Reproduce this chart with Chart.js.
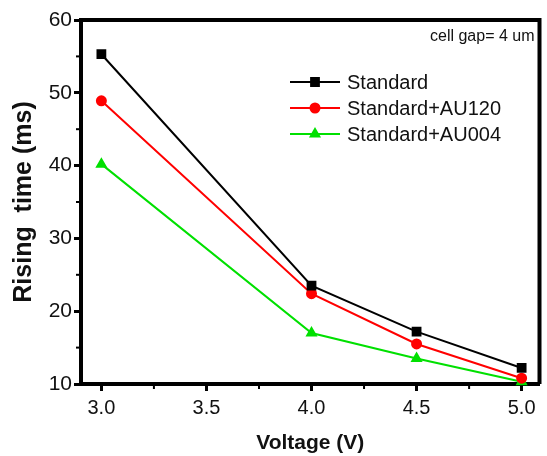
<!DOCTYPE html>
<html>
<head>
<meta charset="utf-8">
<script src="https://cdn.jsdelivr.net/npm/chart.js@4.4.1/dist/chart.umd.min.js"></script>
<style>
  body { margin: 0; background: #fff; }
  #chart { display: block; }
</style>
</head>
<body>
<canvas id="chart" width="547" height="456"></canvas>
<script>
// values
const voltages = [3.0, 4.0, 4.5, 5.0];
const standard = [55.3, 23.5, 17.2, 12.2];
const au120 = [48.9, 22.4, 15.5, 10.8];
const au004 = [40.2, 17.0, 13.5, 10.3];
const seriesLabels = ['Standard', 'Standard+AU120', 'Standard+AU004'];
const xTicks = [3.0, 3.5, 4.0, 4.5, 5.0];
const yTicks = [10, 20, 30, 40, 50, 60];
const note = 'cell gap= 4 um';

const font = "'Liberation Sans', Arial, sans-serif";

const toPoints = vals => vals.map((v, i) => ({ x: voltages[i], y: v }));

// frame, minor ticks, legend and note
const extras = {
  id: 'extras',
  afterDraw(chart) {
    const ctx = chart.ctx;
    const a = chart.chartArea;
    const xs = chart.scales.x, ys = chart.scales.y;
    ctx.save();
    ctx.strokeStyle = '#000';
    ctx.lineWidth = 4;
    ctx.beginPath();
    ctx.moveTo(a.left, a.top);
    ctx.lineTo(a.right, a.top);
    ctx.lineTo(a.right, a.bottom);
    ctx.stroke();

    // minor ticks halfway between majors
    ctx.lineWidth = 2;
    for (let i = 0; i < xTicks.length - 1; i++) {
      const px = xs.getPixelForValue((xTicks[i] + xTicks[i + 1]) / 2);
      ctx.beginPath();
      ctx.moveTo(px, a.bottom);
      ctx.lineTo(px, a.bottom + 5);
      ctx.stroke();
    }
    for (let i = 0; i < yTicks.length - 1; i++) {
      const py = ys.getPixelForValue((yTicks[i] + yTicks[i + 1]) / 2);
      ctx.beginPath();
      ctx.moveTo(a.left, py);
      ctx.lineTo(a.left - 5, py);
      ctx.stroke();
    }

    // legend
    const rows = [82, 108, 134];
    chart.data.datasets.forEach((ds, i) => {
      const y = rows[i];
      ctx.strokeStyle = ds.borderColor;
      ctx.lineWidth = 2;
      ctx.beginPath();
      ctx.moveTo(290, y);
      ctx.lineTo(340, y);
      ctx.stroke();
      Chart.helpers.drawPoint(ctx, {
        pointStyle: ds.pointStyle, radius: ds.pointRadius, borderWidth: 1
      }, 315, y);
      ctx.fillStyle = ds.pointBackgroundColor;
      ctx.fill();
      ctx.fillStyle = '#111';
      ctx.font = '20px ' + font;
      ctx.textBaseline = 'middle';
      ctx.textAlign = 'left';
      ctx.fillText(ds.label, 347, y + 1);
    });

    ctx.fillStyle = '#111';
    ctx.font = '16px ' + font;
    ctx.textAlign = 'right';
    ctx.textBaseline = 'middle';
    ctx.fillText(note, a.right - 5, 37);
    ctx.restore();
  }
};

const colors = ['#000000', '#ff0000', '#00e000'];
const styles = ['rect', 'circle', 'triangle'];
const radii = [5.5, 4.5, 5];
const seriesData = [standard, au120, au004];

new Chart(document.getElementById('chart'), {
  type: 'line',
  data: {
    datasets: seriesData.map((vals, i) => ({
      label: seriesLabels[i],
      data: toPoints(vals),
      borderColor: colors[i],
      backgroundColor: colors[i],
      pointBackgroundColor: colors[i],
      pointBorderColor: colors[i],
      pointStyle: styles[i],
      pointRadius: radii[i],
      borderWidth: 2,
      tension: 0,
      clip: false
    }))
  },
  options: {
    responsive: false,
    animation: false,
    layout: { padding: { left: 0, top: 20, right: 4, bottom: 0 } },
    plugins: {
      legend: { display: false },
      tooltip: { enabled: false }
    },
    scales: {
      x: {
        type: 'linear',
        min: 2.903,
        max: 5.085,
        afterBuildTicks: s => { s.ticks = xTicks.map(v => ({ value: v })); },
        afterFit: s => { s.height = 72; },
        border: { color: '#000', width: 4 },
        grid: { drawOnChartArea: false, drawTicks: true, tickLength: 7, tickWidth: 3, tickColor: '#000' },
        ticks: {
          color: '#111',
          padding: 5,
          maxRotation: 0,
          font: { family: font, size: 20 },
          callback: v => Number(v).toFixed(1)
        },
        title: {
          display: true,
          text: 'Voltage (V)',
          color: '#111',
          font: { family: font, size: 21, weight: 'bold' },
          padding: { top: 0, bottom: 0 }
        }
      },
      y: {
        min: 10,
        max: 60,
        afterBuildTicks: s => { s.ticks = yTicks.map(v => ({ value: v })); },
        afterFit: s => { s.width = 81; },
        border: { color: '#000', width: 4 },
        grid: { drawOnChartArea: false, drawTicks: true, tickLength: 7, tickWidth: 3, tickColor: '#000' },
        ticks: {
          color: '#111',
          padding: 2,
          font: { family: font, size: 21 }
        },
        title: {
          display: true,
          text: 'Rising  time (ms)',
          color: '#111',
          font: { family: font, size: 25, weight: 'bold' },
          padding: { top: 9, bottom: 0 }
        }
      }
    }
  },
  plugins: [extras]
});
</script>
</body>
</html>
